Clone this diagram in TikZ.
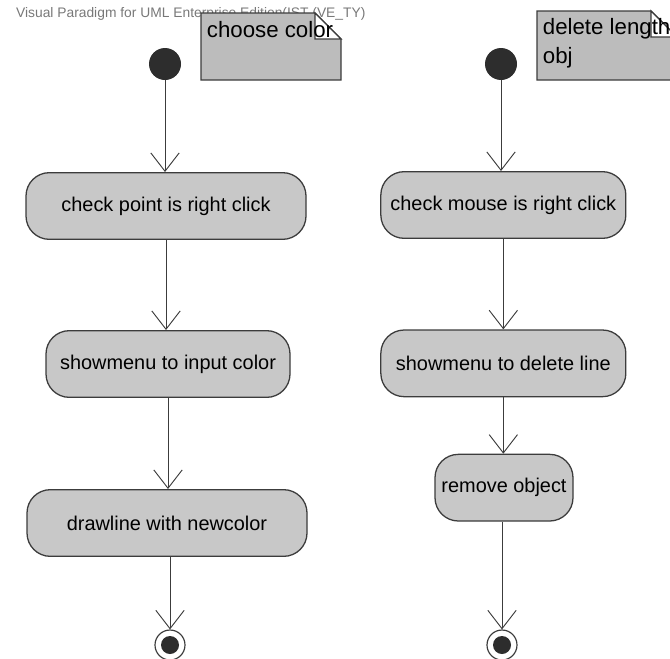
\documentclass[tikz,border=0pt]{standalone}
\usepackage{fontspec}
\setmainfont{Liberation Sans}
\usetikzlibrary{arrows.meta}
\definecolor{actgray}{RGB}{200,200,200}
\definecolor{notegray}{RGB}{188,188,188}
\definecolor{edgegray}{RGB}{60,60,60}
\definecolor{dotgray}{RGB}{45,45,45}
\definecolor{bannergray}{RGB}{120,120,120}
\begin{document}
\begin{tikzpicture}[
  act/.style={draw=edgegray, line width=1.1pt, fill=actgray, rounded corners=0.7cm,
    minimum height=2cm, inner sep=0pt, font=\fontsize{17}{20}\selectfont},
  startdot/.style={circle, fill=dotgray, minimum size=0.96cm, inner sep=0pt},
  enddot/.style={circle, draw=edgegray, line width=1pt, fill=white, minimum size=0.9cm, inner sep=0pt,
    path picture={\fill[dotgray] (path picture bounding box.center) circle (0.27);}},
  flow/.style={draw=edgegray, line width=0.8pt, -{Straight Barb[length=0.55cm, width=0.85cm, line width=0.8pt]}},
  notebody/.style={fill=notegray, draw=edgegray, line width=1.1pt},
  notefold/.style={fill=white, draw=edgegray, line width=1.1pt},
  notetext/.style={inner sep=0pt, align=left, font=\fontsize{19}{25}\selectfont}
]
  \useasboundingbox (0,0) rectangle (20.1,-19.74);
  \clip (0,0) rectangle (20.1,-19.74);
  \node[anchor=west, text=bannergray, font=\fontsize{11.8}{13}\selectfont] (banner) at (0.36,-0.42)
    {Visual Paradigm for UML Enterprise Edition(IST (VE\_TY)};

  \path[notebody] (6.03,-0.39) -- (9.45,-0.39) -- (10.23,-1.17) -- (10.23,-2.4) -- (6.03,-2.4) -- cycle;
  \path[notefold] (9.45,-0.39) -- (9.45,-1.17) -- (10.23,-1.17) -- cycle;
  \node[notetext, anchor=north west] (colornote) at (6.2,-0.62) {choose color};

  \path[notebody] (16.11,-0.33) -- (19.53,-0.33) -- (20.31,-1.11) -- (20.31,-2.4) -- (16.11,-2.4) -- cycle;
  \path[notefold] (19.53,-0.33) -- (19.53,-1.11) -- (20.31,-1.11) -- cycle;
  \node[notetext, anchor=north west] (deletenote) at (16.28,-0.55) {delete length\\obj};

  \node[startdot] (startL) at (4.95,-1.92) {};
  \node[act, minimum width=8.4cm] (pointclick) at (4.98,-6.18) {check point is right click};
  \node[act, minimum width=7.32cm] (colormenu) at (5.04,-10.92) {showmenu to input color};
  \node[act, minimum width=8.4cm] (drawline) at (5.01,-15.69) {drawline with newcolor};
  \node[enddot] (endL) at (5.1,-19.35) {};

  \node[startdot] (startR) at (15.03,-1.92) {};
  \node[act, minimum width=7.35cm] (mouseclick) at (15.1,-6.15) {check mouse is right click};
  \node[act, minimum width=7.35cm] (deletemenu) at (15.1,-10.9) {showmenu to delete line};
  \node[act, minimum width=4.14cm] (removeobj) at (15.12,-14.63) {remove object};
  \node[enddot] (endR) at (15.06,-19.35) {};

  \draw[flow] (startL) -- (startL |- pointclick.north);
  \draw[flow] (pointclick) -- (pointclick |- colormenu.north);
  \draw[flow] (colormenu) -- (colormenu |- drawline.north);
  \draw[flow] (drawline.south -| endL) -- (endL);

  \draw[flow] (startR) -- (startR |- mouseclick.north);
  \draw[flow] (mouseclick) -- (mouseclick |- deletemenu.north);
  \draw[flow] (deletemenu) -- (deletemenu |- removeobj.north);
  \draw[flow] (removeobj.south -| endR) -- (endR);
\end{tikzpicture}
\end{document}
